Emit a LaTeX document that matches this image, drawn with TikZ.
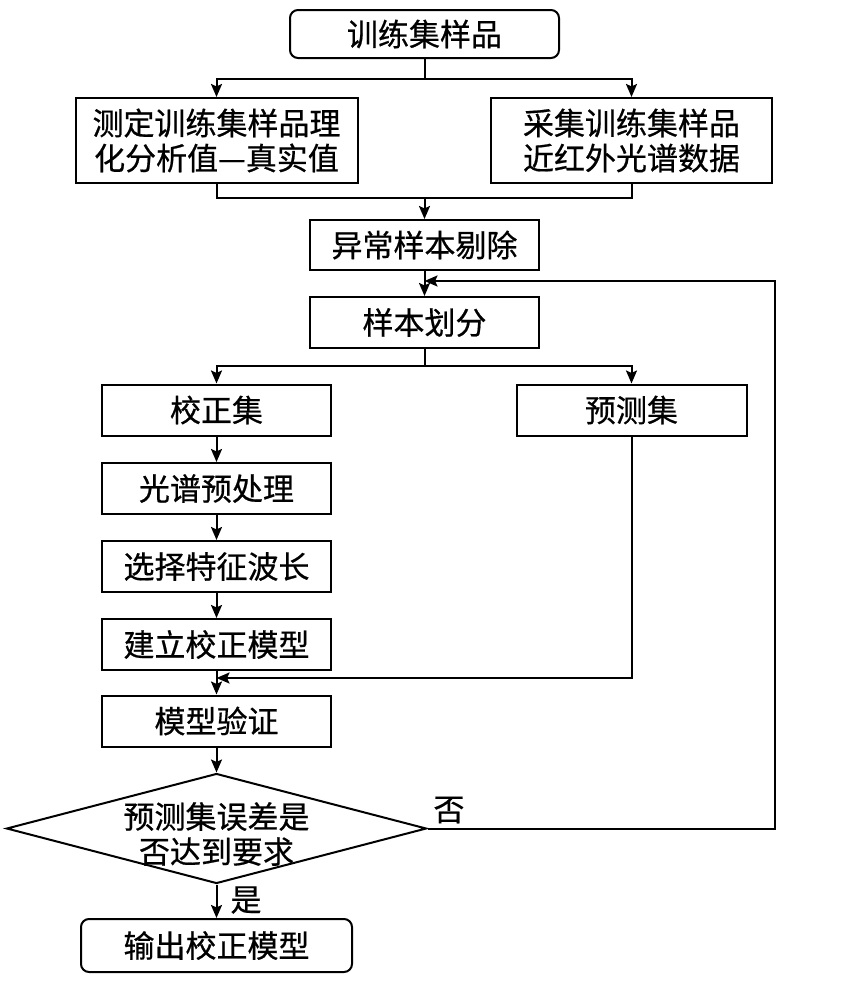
\documentclass[tikz,border=0pt]{standalone}
\usepackage{fontspec}
\setmainfont{Noto Sans CJK SC}[FakeBold=0.6]
\usetikzlibrary{arrows.meta,shapes.geometric}
\begin{document}
\begin{tikzpicture}[x=0.5pt,y=-0.5pt,
  every node/.style={font=\fontsize{15.5}{17.5}\selectfont, inner sep=0pt, align=center},
  box/.style={draw, line width=1pt, rectangle},
  rbox/.style={draw, line width=1pt, rectangle, rounded corners=4pt},
  ln/.style={line width=1pt},
  arr/.style={line width=1pt, -{Stealth[length=6.5pt,width=5.5pt,inset=1.2pt]}},
  colbox/.style={box, minimum width=114.5pt, minimum height=25.5pt}
]
\fill[white] (0,0) rectangle (862,996);
\useasboundingbox (0,0) rectangle (862,996);

\node[rbox, minimum width=134.5pt, minimum height=24pt] (top) at (424.5,34) {训练集样品};
\node[box, minimum width=141pt, minimum height=42.5pt] (left) at (216.5,140.5) {测定训练集样品理\\化分析值—真实值};
\node[box, minimum width=140.5pt, minimum height=42.5pt] (right) at (631.5,140.5) {采集训练集样品\\近红外光谱数据};
\node[box, minimum width=114.5pt, minimum height=25pt] (abn) at (424.5,245) {异常样本剔除};
\node[box, minimum width=114.5pt, minimum height=25.5pt] (div) at (424.5,322.5) {样本划分};
\node[colbox] (cal) at (216.5,410) {校正集};
\node[box, minimum width=115pt, minimum height=25.5pt] (pre) at (631.5,410) {预测集};
\node[colbox] (pp) at (216.5,488.5) {光谱预处理};
\node[colbox] (sel) at (216.5,566.5) {选择特征波长};
\node[colbox] (build) at (216.5,644.5) {建立校正模型};
\node[colbox] (ver) at (216.5,721) {模型验证};
\node[diamond, draw, line width=1pt, minimum width=210pt, minimum height=55pt] (dia) at (216.5,828.5) {};
\node (diatext) at (216.5,834) {预测集误差是\\否达到要求};
\node[rbox, minimum width=135.5pt, minimum height=26.5pt] (out) at (216.5,945.5) {输出校正模型};
\node (no) at (449,810) {否};
\node (yes) at (246,900) {是};

\coordinate (j1) at (424.5,79);
\coordinate (j2) at (424.5,198);
\coordinate (fb) at (424.5,281);
\coordinate (fr) at (775,828.5);
\coordinate (j3) at (424.5,366);
\coordinate (j4) at (216.5,678);

\draw[ln] (top.south) -- (j1);
\draw[arr] (j1) -| (left.north);
\draw[arr] (j1) -| (right.north);
\draw[ln] (left.south) |- (j2);
\draw[ln] (right.south) |- (j2);
\draw[arr] (j2) -- (abn.north);
\draw[arr] (abn.south) -- (div.north);
\draw[arr] (dia.east) -- (fr) |- (fb);
\draw[ln] (div.south) -- (j3);
\draw[arr] (j3) -| (cal.north);
\draw[arr] (j3) -| (pre.north);
\draw[arr] (cal.south) -- (pp.north);
\draw[arr] (pp.south) -- (sel.north);
\draw[arr] (sel.south) -- (build.north);
\draw[arr] (build.south) -- (ver.north);
\draw[arr] (pre.south) |- (j4);
\draw[arr] (ver.south) -- (dia.north);
\draw[arr] (dia.south) -- (out.north);
\end{tikzpicture}
\end{document}
